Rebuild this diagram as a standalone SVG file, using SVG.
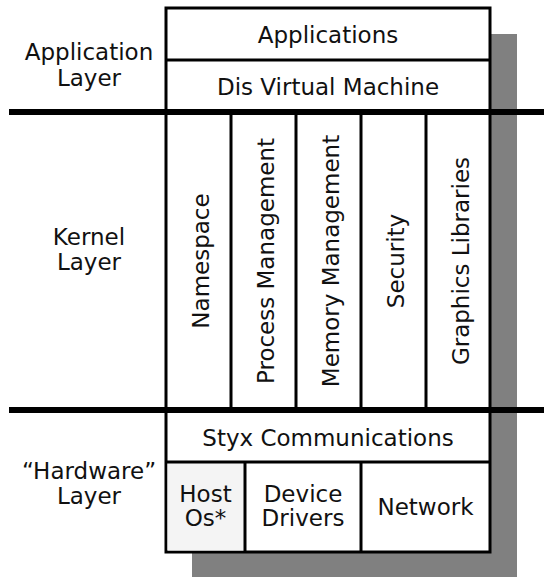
<svg xmlns="http://www.w3.org/2000/svg" width="544" height="577" viewBox="0 0 544 577">
<style>
text{font-family:"DejaVu Sans","Liberation Sans",sans-serif;font-size:23px;fill:#111;text-anchor:middle}
.box{fill:#fff;stroke:#000;stroke-width:3}
.sep{stroke:#000;stroke-width:3;fill:none}
.layer{stroke:#000;stroke-width:6;fill:none}
</style>
<rect id="shadow" x="192" y="34" width="325" height="545" fill="#808080"/>
<g id="stack">
<rect class="box" x="166" y="8" width="324" height="544"/>
<rect x="167.5" y="462" width="77.5" height="88.5" fill="#f4f4f4"/>
</g>
<g id="applications"><text x="328" y="43">Applications</text></g>
<g id="dis"><line class="sep" x1="166" y1="60" x2="490" y2="60"/><text x="328" y="95">Dis Virtual Machine</text></g>
<g id="namespace"><text transform="translate(209,261) rotate(-90)">Namespace</text></g>
<g id="process"><line class="sep" x1="231" y1="112" x2="231" y2="410"/><text transform="translate(274,261) rotate(-90)">Process Management</text></g>
<g id="memory"><line class="sep" x1="296" y1="112" x2="296" y2="410"/><text transform="translate(339,261) rotate(-90)">Memory Management</text></g>
<g id="security"><line class="sep" x1="361" y1="112" x2="361" y2="410"/><text transform="translate(404,261) rotate(-90)">Security</text></g>
<g id="graphics"><line class="sep" x1="426" y1="112" x2="426" y2="410"/><text transform="translate(469,261) rotate(-90)">Graphics Libraries</text></g>
<g id="styx"><text x="328" y="446">Styx Communications</text><line class="sep" x1="166" y1="462" x2="490" y2="462"/></g>
<g id="hostos"><text x="205.5" y="502">Host</text><text x="205.5" y="526">Os*</text></g>
<g id="drivers"><line class="sep" x1="245" y1="462" x2="245" y2="552"/><text x="303" y="502">Device</text><text x="303" y="526">Drivers</text></g>
<g id="network"><line class="sep" x1="361" y1="462" x2="361" y2="552"/><text x="425.5" y="515">Network</text></g>
<g id="label-app"><text x="89" y="59.5">Application</text><text x="89" y="85.5">Layer</text></g>
<g id="label-kernel"><text x="89" y="245">Kernel</text><text x="89" y="270">Layer</text></g>
<g id="label-hw"><text x="89" y="479">“Hardware”</text><text x="89" y="504">Layer</text></g>
<g id="connectors">
<line class="layer" x1="9" y1="112" x2="544" y2="112"/>
<line class="layer" x1="9" y1="410" x2="544" y2="410"/>
</g>
</svg>
